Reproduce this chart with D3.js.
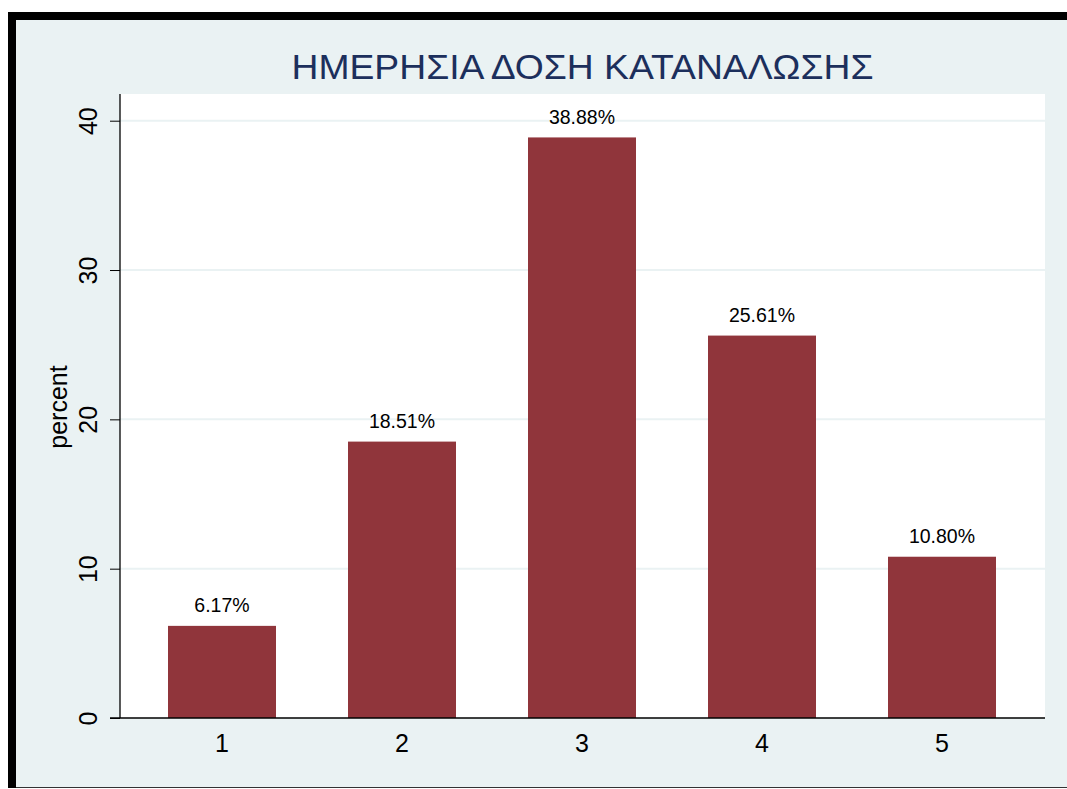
<!DOCTYPE html>
<html><head><meta charset="utf-8">
<script src="https://cdn.jsdelivr.net/npm/d3@7"></script>
<style>body{margin:0;background:#fff;}svg{display:block;font-family:"Liberation Sans",Arial,sans-serif;}</style>
</head><body>
<svg id="c" width="1067" height="789"></svg>
<script>
const categories = ["1","2","3","4","5"];
const values = [6.17, 18.51, 38.88, 25.61, 10.80];
const yTicks = [0, 10, 20, 30, 40];
const title = "ΗΜΕΡΗΣΙΑ ΔΟΣΗ ΚΑΤΑΝΑΛΩΣΗΣ";
const yLabel = "percent";

const svg = d3.select("#c");
// frame
svg.append("rect").attr("x",8).attr("y",12).attr("width",1067).attr("height",776).attr("fill","#000");
svg.append("rect").attr("x",16).attr("y",20).attr("width",1060).attr("height",767).attr("fill","#eaf2f3");
svg.append("line").attr("x1",16).attr("x2",1067).attr("y1",787.5).attr("y2",787.5).attr("stroke","#333").attr("stroke-width",1);

const plot = {left:120, right:1045, top:94, bottom:718};
svg.append("rect").attr("x",plot.left).attr("y",plot.top).attr("width",plot.right-plot.left).attr("height",plot.bottom-plot.top).attr("fill","#fff");

const y = d3.scaleLinear().domain([0,40]).range([718, 120.7]);
const x = d3.scaleBand().domain(categories).range([132,1032]).paddingInner(0.4).paddingOuter(0.2);

// gridlines
svg.append("g").selectAll("line").data(yTicks.filter(d=>d>0)).join("line")
  .attr("x1",plot.left).attr("x2",plot.right)
  .attr("y1",d=>y(d)).attr("y2",d=>y(d))
  .attr("stroke","#eaf2f3").attr("stroke-width",2);

// bars
svg.append("g").selectAll("rect").data(values).join("rect")
  .attr("x",(d,i)=>x(categories[i])).attr("width",x.bandwidth())
  .attr("y",d=>y(d)).attr("height",d=>y(0)-y(d))
  .attr("fill","#90353b");

// value labels
svg.append("g").selectAll("text").data(values).join("text")
  .attr("x",(d,i)=>x(categories[i])+x.bandwidth()/2)
  .attr("y",d=>y(d)-13.5)
  .attr("text-anchor","middle").attr("font-size",19.5).attr("fill","#000")
  .text(d=>d.toFixed(2)+"%");

// y axis
const yAxis = svg.append("g").attr("transform",`translate(${plot.left},0)`)
  .call(d3.axisLeft(y).tickValues(yTicks).tickSize(10).tickPadding(0).tickFormat(d3.format("d")));
yAxis.select(".domain").remove();
yAxis.selectAll(".tick line").attr("stroke","#000");
yAxis.selectAll(".tick text").each(function(){
    d3.select(this).attr("dy",null).attr("x",0).attr("y",0)
      .attr("text-anchor","middle").attr("font-size",25).attr("fill","#000")
      .attr("transform",`translate(-23,0) rotate(-90)`);
  });
svg.append("line").attr("x1",plot.left).attr("x2",plot.left).attr("y1",plot.top).attr("y2",plot.bottom).attr("stroke","#000").attr("stroke-width",1.3);

// x axis
const xAxis = svg.append("g").attr("transform",`translate(0,${plot.bottom})`)
  .call(d3.axisBottom(x).tickSize(0).tickPadding(0));
xAxis.select(".domain").remove();
xAxis.selectAll(".tick text").attr("font-size",25).attr("fill","#000").attr("dy",null).attr("y",34);
svg.append("line").attr("x1",110).attr("x2",plot.right).attr("y1",plot.bottom).attr("y2",plot.bottom).attr("stroke","#000").attr("stroke-width",1.3);

// y label
svg.append("text").attr("transform",`translate(67,${407}) rotate(-90)`)
  .attr("text-anchor","middle").attr("font-size",25).attr("fill","#000").text(yLabel);

// title
svg.append("text").attr("x",(plot.left+plot.right)/2).attr("y",79)
  .attr("text-anchor","middle").attr("font-size",35).attr("fill","#1c2f5c")
  .attr("textLength",582).attr("lengthAdjust","spacingAndGlyphs").text(title);
</script>
</body></html>
